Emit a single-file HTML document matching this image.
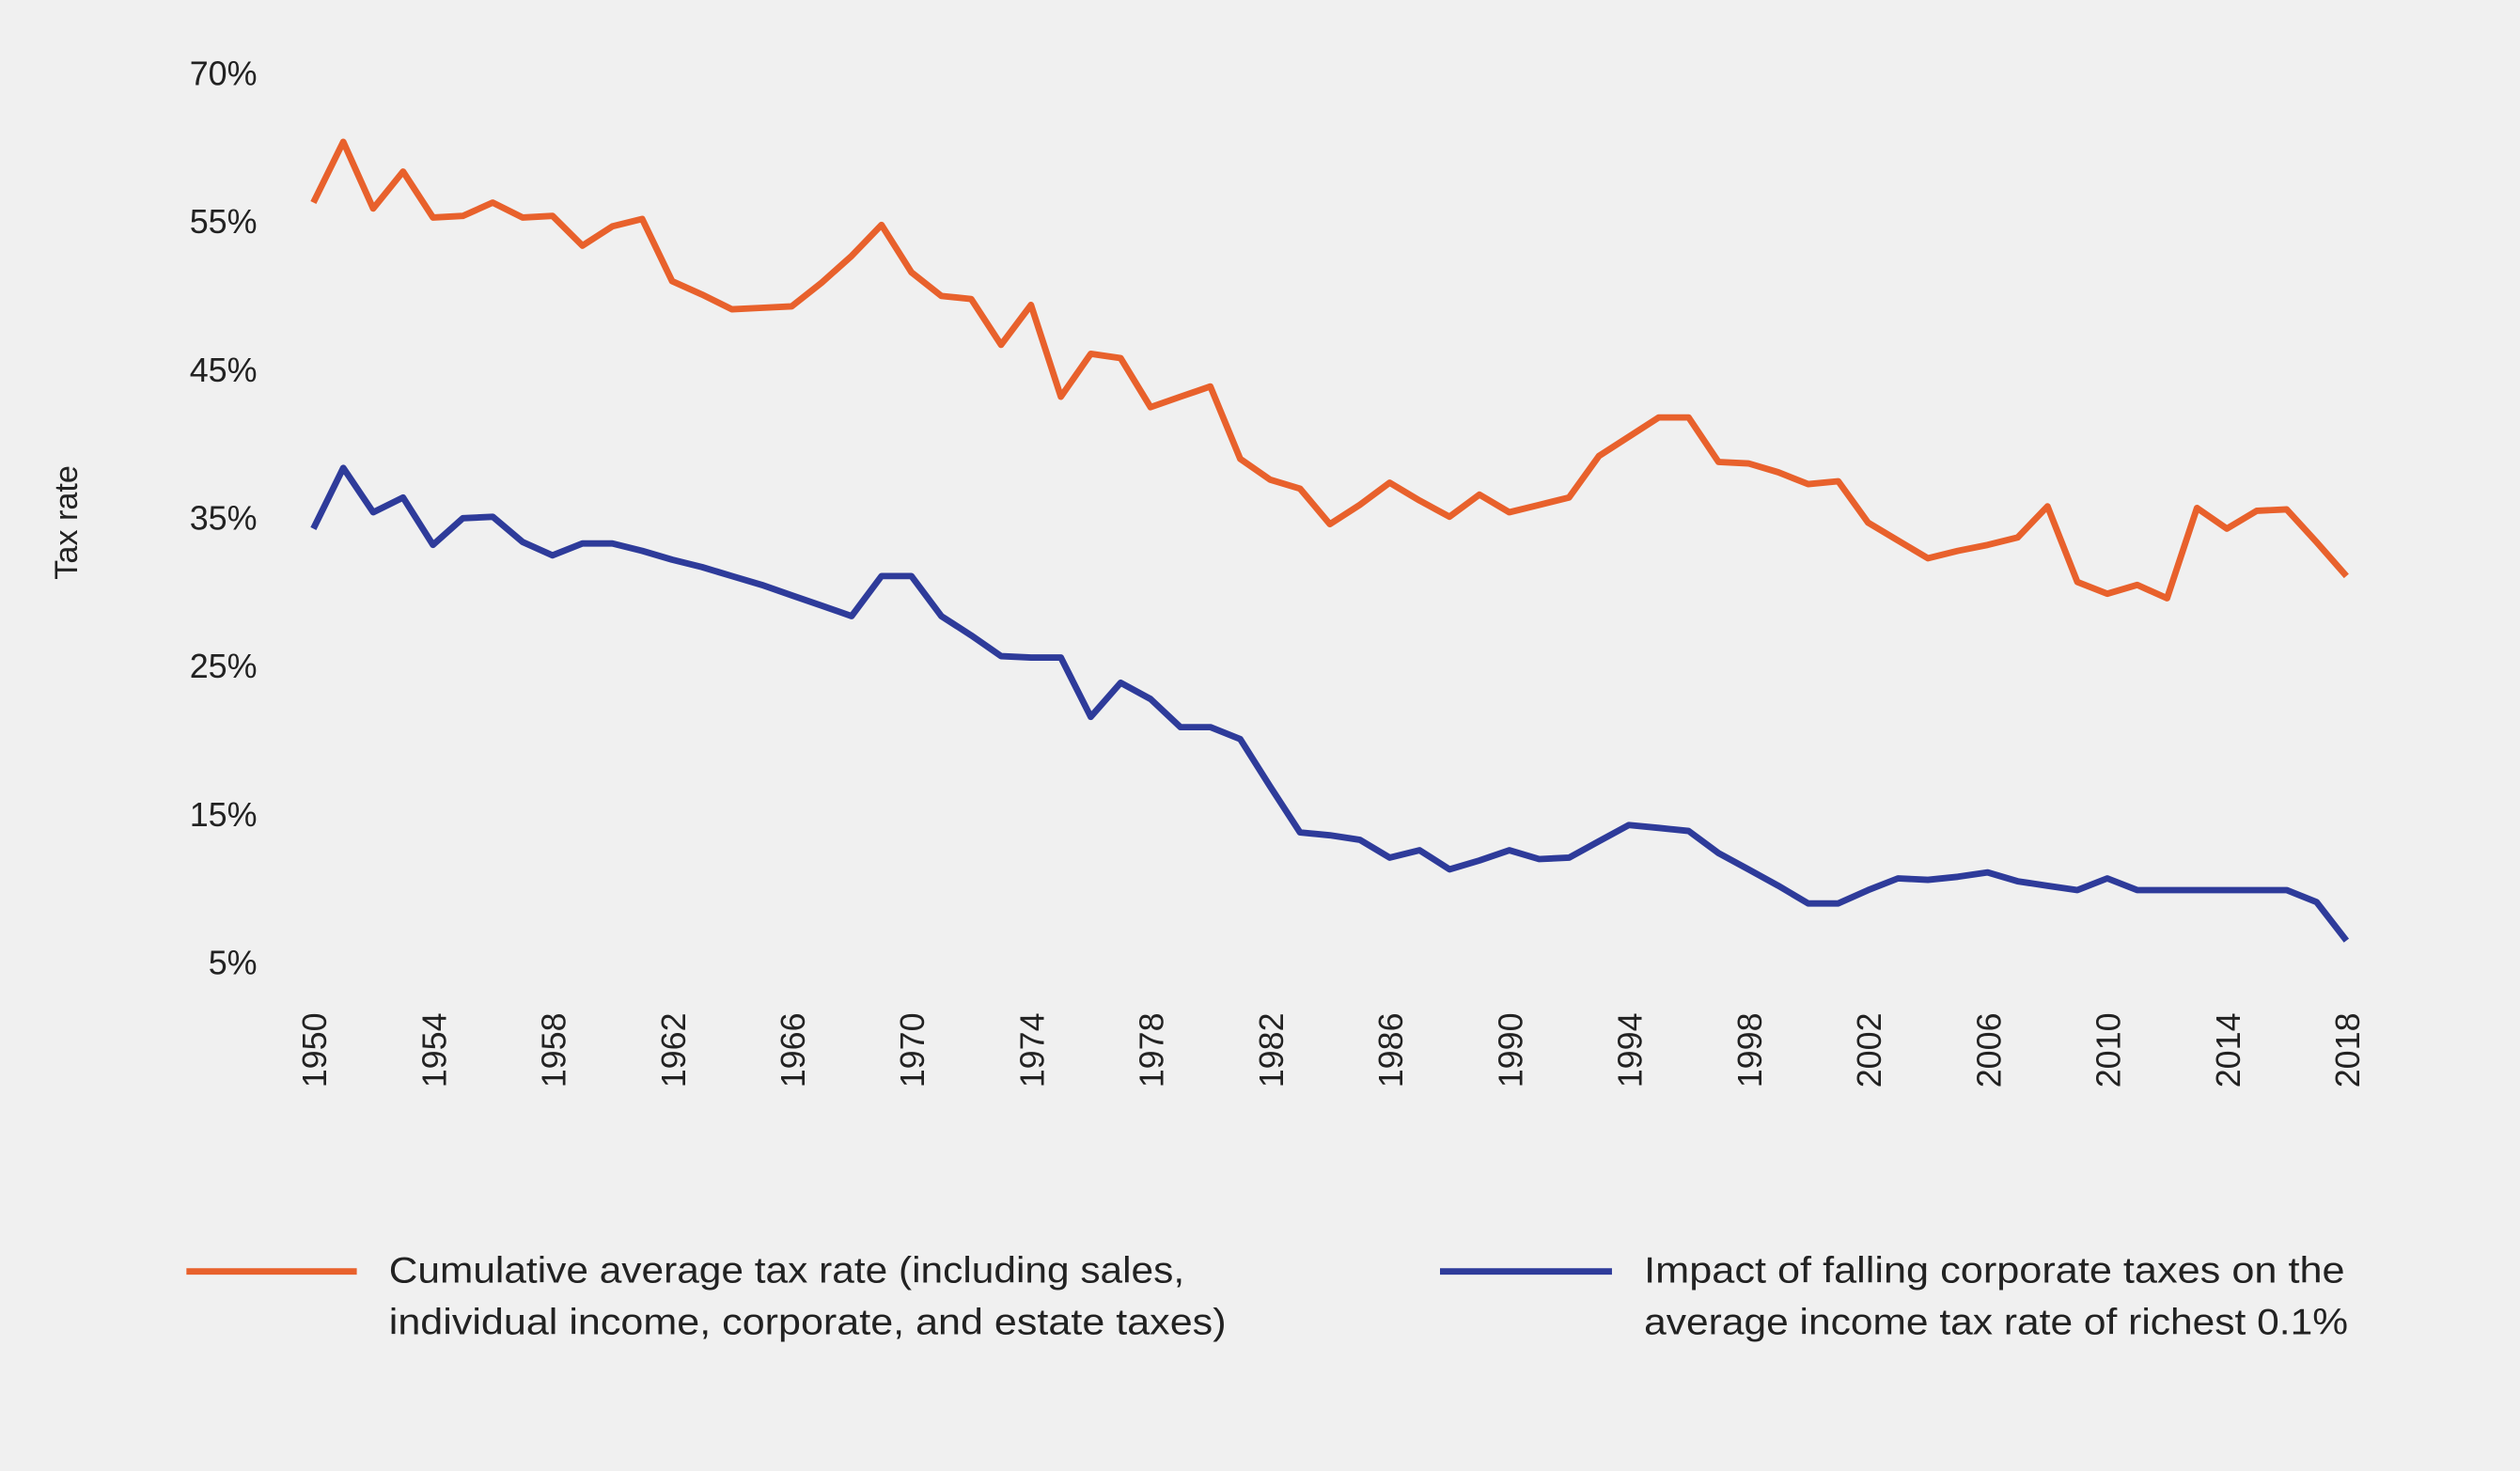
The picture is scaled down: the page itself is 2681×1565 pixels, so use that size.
<!DOCTYPE html>
<html><head><meta charset="utf-8"><style>
html,body{margin:0;padding:0;background:#f0f0f0;}
svg{display:block;}
text{font-family:"Liberation Sans",sans-serif;fill:#222;}
</style></head><body>
<svg id="chart" width="2681" height="1565" viewBox="0 0 1568 915" xmlns="http://www.w3.org/2000/svg">
<rect width="1568" height="915" fill="#f0f0f0"/>
<text x="48" y="325" font-size="20" text-anchor="middle" transform="rotate(-90 48 325)">Tax rate</text>
<g id="yticks"></g>
<g id="xticks"></g>
<g id="lines"></g>
<g>
<g>
<line x1="116" y1="791" x2="222" y2="791" stroke="#e8612c" stroke-width="4"/>
<text x="242" y="798" font-size="23" textLength="495" lengthAdjust="spacingAndGlyphs">Cumulative average tax rate (including sales,</text>
<text x="242" y="830" font-size="23" textLength="521" lengthAdjust="spacingAndGlyphs">individual income, corporate, and estate taxes)</text>
</g>
<g>
<line x1="896" y1="791" x2="1003" y2="791" stroke="#2e3b9a" stroke-width="4"/>
<text x="1023" y="798" font-size="23" textLength="436" lengthAdjust="spacingAndGlyphs">Impact of falling corporate taxes on the</text>
<text x="1023" y="830" font-size="23" textLength="438" lengthAdjust="spacingAndGlyphs">average income tax rate of richest 0.1%</text>
</g>
</g>
</svg>
<script>
const years = [];
for (let y = 1950; y <= 2018; y++) years.push(y);
const cumulative = [56.2,60.3,55.8,58.3,55.2,55.3,56.2,55.2,55.3,53.3,54.6,55.1,50.9,50,49,49.1,49.2,50.8,52.6,54.7,51.5,49.9,49.7,46.6,49.3,43.1,46,45.7,42.4,43.1,43.8,38.9,37.5,36.9,34.5,35.8,37.3,36.1,35,36.5,35.3,35.8,36.3,39.1,40.4,41.7,41.7,38.7,38.6,38,37.2,37.4,34.6,33.4,32.2,32.7,33.1,33.6,35.7,30.6,29.8,30.4,29.5,35.6,34.2,35.4,35.5,33.3,31];
const corporate = [34.2,38.3,35.3,36.3,33.1,34.9,35,33.3,32.4,33.2,33.2,32.7,32.1,31.6,31,30.4,29.7,29,28.3,31,31,28.3,27,25.6,25.5,25.5,21.5,23.8,22.7,20.8,20.8,20,16.8,13.7,13.5,13.2,12,12.5,11.2,11.8,12.5,11.9,12,13.1,14.2,14,13.8,12.3,11.2,10.1,8.9,8.9,9.8,10.6,10.5,10.7,11,10.4,10.1,9.8,10.6,9.8,9.8,9.8,9.8,9.8,9.8,9,6.4];
const yTickValues = [65,55,45,35,25,15,5];
const yTickLabels = ["70%","55%","45%","35%","25%","15%","5%"];
const xTickYears = [1950,1954,1958,1962,1966,1970,1974,1978,1982,1986,1990,1994,1998,2002,2006,2010,2014,2018];

const NS = "http://www.w3.org/2000/svg";
const xs = yr => 195 + (yr - 1950) * (1265 / 68);
const ys = v => 598 - (v - 5) * 9.22;

const yg = document.getElementById('yticks');
yTickValues.forEach((v, i) => {
  const t = document.createElementNS(NS, 'text');
  t.setAttribute('x', 160); t.setAttribute('y', ys(v) + 8);
  t.setAttribute('font-size', '21'); t.setAttribute('text-anchor', 'end');
  t.textContent = yTickLabels[i];
  
  
  yg.appendChild(t);
});
const xg = document.getElementById('xticks');
xTickYears.forEach(yr => {
  const t = document.createElementNS(NS, 'text');
  const x = xs(yr) + 8, y = 630;
  t.setAttribute('x', x); t.setAttribute('y', y);
  t.setAttribute('font-size', '21'); t.setAttribute('text-anchor', 'end');
  t.setAttribute('transform', `rotate(-90 ${x} ${y})`);
  t.textContent = yr;
  
  
  xg.appendChild(t);
});
const lg = document.getElementById('lines');
function drawLine(vals, color, name) {
  const p = document.createElementNS(NS, 'path');
  p.setAttribute('d', vals.map((v, i) => (i ? 'L' : 'M') + xs(years[i]).toFixed(1) + ',' + ys(v).toFixed(1)).join(''));
  p.setAttribute('fill', 'none'); p.setAttribute('stroke', color);
  p.setAttribute('stroke-width', '4'); p.setAttribute('stroke-linejoin', 'round');
  
  
  lg.appendChild(p);
}
drawLine(cumulative, '#e8612c', 'cumulative-tax-line');
drawLine(corporate, '#2e3b9a', 'corporate-impact-line');
</script>
</body></html>
